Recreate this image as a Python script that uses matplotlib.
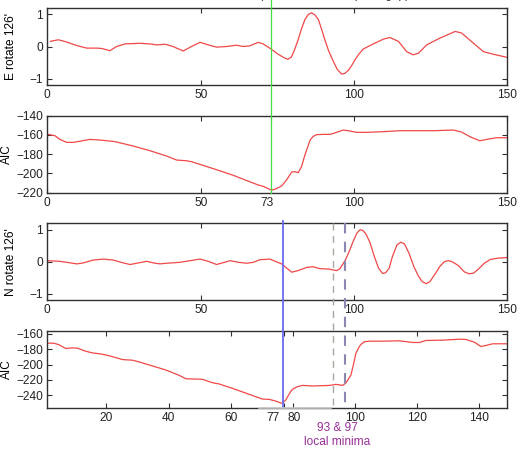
import matplotlib
matplotlib.use("Agg")
import matplotlib.pyplot as plt
from matplotlib.lines import Line2D
import matplotlib.transforms as mtransforms

plt.rcParams['font.family'] = ['Liberation Sans', 'DejaVu Sans']
plt.rcParams['font.size'] = 8.6

# ---- data ----
e_x = [1, 3.6, 6.3, 9.6, 12.8, 16, 17.7, 20.4, 22.6, 25.3, 30, 33.5, 35.7, 38.4, 41, 44.3, 47,
       49.8, 52.5, 55.2, 58.5, 61.7, 63.9, 66, 68.8, 70.4, 73, 74.8, 77, 78.4, 79.6, 80.7, 81.8,
       82.9, 84, 85.1, 86.2, 87.3, 88.4, 89.4, 90.5, 91.8, 93.3, 94.6, 96, 97, 98.2, 99.2, 100.3,
       101.5, 103, 106.3, 109.6, 111.7, 114.5, 117.2, 119.3, 121, 123.7, 128, 133, 135.1, 139,
       142.2, 145.4, 150]
e_y = [0.16, 0.21, 0.14, 0.03, -0.05, -0.05, -0.06, -0.13, 0.0, 0.08, 0.10, 0.08, 0.05, 0.07, 0.0,
       -0.14, 0.0, 0.13, 0.05, -0.02, 0.0, 0.04, 0.0, 0.02, 0.13, 0.08, -0.08, -0.21, -0.34, -0.40,
       -0.33, -0.08, 0.21, 0.55, 0.84, 1.0, 1.05, 0.98, 0.84, 0.55, 0.21, -0.15, -0.47, -0.72,
       -0.86, -0.84, -0.74, -0.60, -0.42, -0.25, -0.08, 0.08, 0.23, 0.28, 0.16, -0.16, -0.26,
       -0.21, 0.05, 0.26, 0.47, 0.42, 0.10, -0.16, -0.24, -0.34]

aic1_x = [0.3, 2.5, 4.1, 6.3, 8.5, 13.9, 17.2, 21.5, 22.4, 28, 33.5, 38.9, 42.2, 45.4, 47, 49.8,
          55.2, 60.7, 66, 68.8, 70.4, 73, 74.2, 76.4, 78, 79.7, 80.8, 81.8, 82.9, 84, 85.7, 86.7,
          87.8, 90, 92.2, 93.3, 96.5, 98.7, 100.9, 104.1, 109.6, 115, 120.4, 125.9, 132.4, 135.1,
          137.8, 141, 143.3, 146.5, 150]
aic1_y = [-159.4, -160.8, -164.6, -167.7, -167.7, -164.6, -165.3, -166.7, -167.2, -171.5, -176.4,
          -181.9, -186.1, -186.8, -187.8, -190.6, -196.1, -202.0, -208.6, -212.0, -213.4, -217.2,
          -216.5, -213.0, -206.8, -198.5, -198.2, -199.2, -193.0, -180.9, -165.3, -161.5, -159.7,
          -159.4, -159.4, -158.4, -154.9, -155.9, -157.3, -157.3, -156.6, -155.6, -155.6, -155.6,
          -154.9, -157.0, -161.8, -166.0, -164.6, -162.9, -162.9]

n_x = [0.3, 4.1, 6.3, 9.6, 11.7, 15, 18.3, 21.5, 24.8, 27, 29.1, 32.4, 34.6, 36.7, 38.9, 43.3,
       46.5, 49.8, 52.5, 55.2, 59.6, 62.3, 65, 67.2, 69.3, 72.6, 76.4, 79.7, 81.8, 84.6, 86.7,
       88.9, 91.6, 92.7, 94.3, 95.4, 97.1, 98.5, 99.8, 101, 102, 103, 104, 105.2, 106.5, 108,
       109.3, 110.3, 111.5, 112.5, 114, 115.3, 116.5, 118, 119.5, 121, 122.3, 123.6, 124.8,
       126.5, 128, 129.5, 130.8, 132, 134, 136, 137.5, 139, 140.5, 142.5, 144.5, 147, 150]
n_y = [0.03, 0.01, -0.02, -0.07, -0.04, 0.05, 0.08, 0.05, -0.04, -0.09, -0.05, 0.01, -0.04, -0.07,
       -0.05, -0.02, 0.03, 0.08, 0.01, -0.09, 0.03, -0.02, -0.05, -0.02, 0.06, 0.08, -0.07, -0.33,
       -0.28, -0.18, -0.16, -0.22, -0.23, -0.25, -0.28, -0.22, 0.03, 0.33, 0.65, 0.90, 1.0, 0.97,
       0.85, 0.60, 0.20, -0.20, -0.37, -0.35, -0.20, 0.15, 0.52, 0.61, 0.55, 0.25, -0.15, -0.45,
       -0.63, -0.69, -0.62, -0.38, -0.15, 0.0, 0.03, 0.0, -0.12, -0.32, -0.38, -0.36, -0.24,
       -0.05, 0.07, 0.11, 0.13]

aic2_x = [0.7, 3.1, 4.8, 6.9, 9, 10.7, 13.3, 15.5, 18.7, 21.9, 25.2, 28.4, 30.5, 33.7, 39.1, 43.4,
          45.5, 47.7, 50.9, 54.1, 56.3, 60.6, 66, 70.2, 72.4, 74.5, 76.5, 77.7, 79.4, 80.3, 81.5,
          83.1, 86.3, 89.5, 92, 93.8, 96, 97, 98.7, 99.5, 100.3, 101.4, 102, 103, 104.6, 108.9,
          114.2, 118.6, 120.7, 122.8, 128.2, 133.6, 135.7, 138.4, 140.5, 142.1, 144.3, 148.8]
aic2_y = [-172.2, -172.2, -174.3, -179.1, -178.3, -178.7, -182.6, -184.8, -186.5, -189.6, -193.5,
          -194.3, -196.5, -200.4, -207.0, -213.9, -218.3, -218.7, -219.1, -223.5, -225.2, -230.9,
          -238.7, -244.8, -245.2, -247.4, -250.4, -246.1, -234.3, -231.0, -228.7, -227.0, -227.8,
          -227.4, -227.0, -225.7, -227.0, -224.3, -213.5, -200.0, -185.2, -176.5, -173.5, -170.4,
          -169.6, -169.6, -169.1, -171.3, -171.3, -168.7, -168.3, -167.0, -167.4, -170.9, -176.5,
          -175.2, -173.0, -173.0]

pick_top = 73
pick_bottom = 77
local_minima = [93, 97]

ticks_top = [0, 50, 100, 150]
ticks_aic1 = [0, 50, 73, 100, 150]
ticks_aic2 = [20, 40, 60, 77, 80, 100, 120, 140]

# ---- figure ----
W, H = 532, 450
fig = plt.figure(figsize=(W / 100, H / 100), dpi=100)

def axrect(top_px, bot_px, left_px=47.3, right_px=507.3):
    return [left_px / W, 1 - bot_px / H, (right_px - left_px) / W, (bot_px - top_px) / H]

ax1 = fig.add_axes(axrect(8, 85))
ax2 = fig.add_axes(axrect(115.7, 192.7))
ax3 = fig.add_axes(axrect(223.3, 300))
ax4 = fig.add_axes(axrect(330.7, 407.7))

red = '#f04848'
for ax in (ax1, ax2, ax3, ax4):
    for s in ax.spines.values():
        s.set_linewidth(1.0)
        s.set_color('#303030')
    ax.tick_params(direction='in', top=True, right=True, length=3.5, width=0.8,
                   colors='#303030', labelcolor='#222222', pad=3)

ax1.plot(e_x, e_y, color=red, lw=0.9)
ax1.set_xlim(0, 150)
ax1.set_ylim(-1.2, 1.2)
ax1.set_xticks(ticks_top)
ax1.set_yticks([-1, 0, 1])
ax1.set_ylabel("E rotate 126'")

ax2.plot(aic1_x, aic1_y, color=red, lw=0.9)
ax2.set_xlim(0, 150)
ax2.set_ylim(-220, -140)
ax2.set_xticks(ticks_aic1)
ax2.set_yticks([-220, -200, -180, -160, -140])
ax2.set_ylabel("AIC")

ax3.plot(n_x, n_y, color=red, lw=0.9)
ax3.set_xlim(0, 150)
ax3.set_ylim(-1.2, 1.2)
ax3.set_xticks(ticks_top)
ax3.set_yticks([-1, 0, 1])
ax3.set_ylabel("N rotate 126'")

ax4.plot(aic2_x, aic2_y, color=red, lw=0.9)
ax4.set_xlim(1, 149)
ax4.set_ylim(-256, -156)
ax4.set_xticks(ticks_aic2)
ax4.set_yticks([-240, -220, -200, -180, -160])
ax4.set_ylabel("AIC")

for ax in (ax1, ax2, ax3, ax4):
    ax.yaxis.set_label_coords(-0.075 if ax in (ax2, ax4) else -0.065, 0.5)

# shift crowded tick labels like in the reference
def shift_label(ax, value, dx_px):
    fig.canvas.draw()
    for t, lab in zip(ax.get_xticks(), ax.get_xticklabels()):
        if t == value:
            lab.set_transform(lab.get_transform() +
                              mtransforms.ScaledTranslation(dx_px / 100, 0, fig.dpi_scale_trans))

shift_label(ax2, 73, -4.5)
shift_label(ax4, 77, -11)
shift_label(ax4, 80, 1)

# vertical pick lines spanning panels (figure coordinates in y)
def vline(ax, x, y0_px, y1_px, **kw):
    tr = mtransforms.blended_transform_factory(ax.transData, fig.transFigure)
    fig.add_artist(Line2D([x, x], [1 - y0_px / H, 1 - y1_px / H], transform=tr, **kw))

vline(ax1, pick_top, 0, 192.7, color='#44dd44', lw=0.9, zorder=5)
vline(ax3, pick_bottom, 220.7, 407.7, color='#6a6af2', lw=1.3, zorder=5)
vline(ax3, local_minima[0], 223.3, 407.7, color='#a8a8a0', lw=1.0, ls=(0, (5, 4)), zorder=5)
vline(ax3, local_minima[1], 223.3, 407.7, color='#8a88b0', lw=1.5, ls=(0, (5, 4)), zorder=5)

# light segment on the bottom spine of the last panel
fig.add_artist(Line2D([259 / W, 331 / W], [1 - 407.7 / H] * 2, transform=fig.transFigure,
                      color='#c8c8c8', lw=1.2, zorder=6))

fig.text(337 / W, 1 - 428 / H, "93 & 97", color='#9a2f9a', ha='center', va='center', fontsize=8.6)
fig.text(337 / W, 1 - 442 / H, "local minima", color='#9a2f9a', ha='center', va='center', fontsize=8.6)

# title cut off at the top edge in the reference
fig.text(0.59, 1 + 1.5 / H, "Station (rotated 126', AIC picking, p)", ha='center',
         va='baseline', fontsize=8.6, color='#333333')

fig.savefig("out.png", dpi=100)
